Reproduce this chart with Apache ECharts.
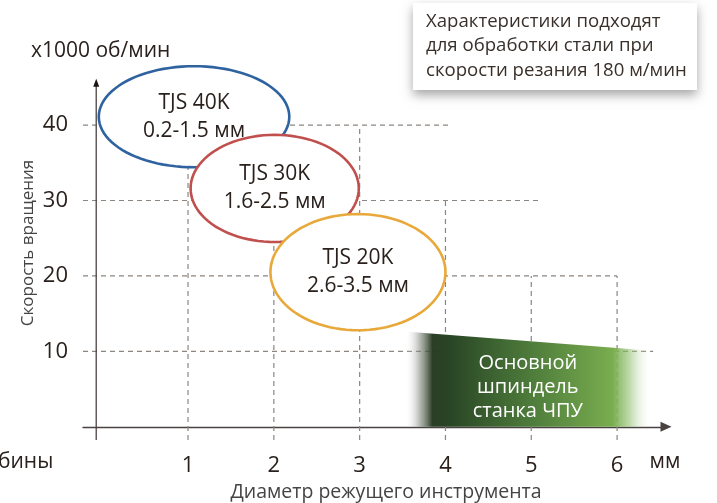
<!DOCTYPE html>
<html>
<head>
<meta charset="utf-8">
<script src="https://cdn.jsdelivr.net/npm/echarts@6/dist/echarts.min.js"></script>
<style>
html, body { margin: 0; padding: 0; background: #fff; }
#main { width: 717px; height: 503px; }
</style>
</head>
<body>
<div id="main"></div>
<script>
// tick values
var xTicks = [1, 2, 3, 4, 5, 6];
var yTicks = [10, 20, 30, 40];

// dashed grid (staircase): horizontal lines end, vertical lines top
var hLineY = [10, 20, 30, 40];
var hLineEnd = [6.42, 6.0, 5.1, 4.05];
var vLineX = [1, 2, 3, 4, 5, 6];
var vLineTop = [40, 40, 40, 30, 20, 20];

// tool ellipses
var toolNames = ['TJS 40K', 'TJS 30K', 'TJS 20K'];
var toolRanges = ['0.2-1.5 мм', '1.6-2.5 мм', '2.6-3.5 мм'];
var toolCenterX = [1.07, 2.01, 2.98];
var toolCenterY = [41.1, 31.6, 20.5];
var toolRadiusX = [1.11, 0.98, 1.02];
var toolRadiusY = [6.7, 7.1, 7.7];
var toolColors = ['#2e63a0', '#c0504d', '#e8a93a'];

// CNC main spindle band
var spindleX = [3.53, 6.41];
var spindleTop = [12.64, 10.08];
var spindleText = 'Основной\nшпиндель\nстанка ЧПУ';

var X_MIN = -0.224, X_MAX = 6.57;
var Y_MIN = -1.75, Y_MAX = 46.5;
var YAXIS_X = -0.07;

var textColor = '#2a211d';
var font = '"Open Sans", sans-serif';

var myChart = echarts.init(document.getElementById('main'));

var gridData = [];
for (var i = 0; i < hLineY.length; i++) {
    gridData.push([X_MIN, hLineY[i], hLineEnd[i], hLineY[i]]);
}
for (var j = 0; j < vLineX.length; j++) {
    gridData.push([vLineX[j], Y_MIN, vLineX[j], vLineTop[j]]);
}

var toolData = [];
for (var k = 0; k < toolNames.length; k++) {
    toolData.push([toolCenterX[k], toolCenterY[k], toolRadiusX[k], toolRadiusY[k], k]);
}

var option = {
    animation: false,
    grid: {
        left: 83,
        right: 51,
        top: 76,
        bottom: 63
    },
    xAxis: {
        type: 'value',
        min: X_MIN,
        max: X_MAX,
        axisLine: {
            onZero: true,
            symbol: ['none', 'triangle'],
            symbolSize: [10, 11],
            lineStyle: { color: '#4a4240', width: 1.3 }
        },
        axisTick: { show: false },
        splitLine: { show: false },
        axisLabel: {
            customValues: xTicks,
            margin: 15,
            fontSize: 22,
            color: textColor,
            fontFamily: font
        }
    },
    yAxis: {
        type: 'value',
        min: Y_MIN,
        max: Y_MAX,
        axisLine: { show: false },
        axisTick: { show: false },
        splitLine: { show: false },
        axisLabel: {
            customValues: yTicks,
            margin: 15,
            fontSize: 22,
            color: textColor,
            fontFamily: font
        }
    },
    series: [
        {
            // dashed staircase grid
            type: 'custom',
            z: 1,
            data: gridData,
            renderItem: function (params, api) {
                var p1 = api.coord([api.value(0), api.value(1)]);
                var p2 = api.coord([api.value(2), api.value(3)]);
                return {
                    type: 'line',
                    shape: { x1: p1[0], y1: p1[1], x2: p2[0], y2: p2[1] },
                    style: { stroke: '#8c8580', lineWidth: 1.2, lineDash: [5, 4] }
                };
            }
        },
        {
            // y axis with arrow
            type: 'line',
            z: 3,
            clip: false,
            data: [
                { value: [YAXIS_X, Y_MIN], symbol: 'none' },
                { value: [YAXIS_X, 45.6], symbol: 'triangle', symbolSize: [6, 8] }
            ],
            lineStyle: { color: '#4a4240', width: 1.3 },
            itemStyle: { color: '#1a1412' }
        },
        {
            // spindle band
            type: 'custom',
            z: 2,
            data: [[spindleX[0], spindleTop[0], spindleX[1], spindleTop[1]]],
            renderItem: function (params, api) {
                var a = api.coord([api.value(0), 0]);
                var b = api.coord([api.value(0), api.value(1)]);
                var c = api.coord([api.value(2), api.value(3)]);
                var d = api.coord([api.value(2), 0]);
                var mid = api.coord([4.96, 5.17]);
                return {
                    type: 'group',
                    children: [
                        {
                            type: 'polygon',
                            shape: { points: [a, b, c, d] },
                            style: {
                                fill: new echarts.graphic.LinearGradient(0, 0, 1, 0, [
                                    { offset: 0, color: 'rgba(255,255,255,0)' },
                                    { offset: 0.06, color: 'rgba(120,128,115,0.55)' },
                                    { offset: 0.11, color: 'rgba(36,56,31,0.97)' },
                                    { offset: 0.18, color: '#294525' },
                                    { offset: 0.51, color: '#4e7c3b' },
                                    { offset: 0.84, color: '#79ad4f' },
                                    { offset: 0.91, color: 'rgba(140,190,105,0.55)' },
                                    { offset: 1, color: 'rgba(255,255,255,0)' }
                                ])
                            }
                        },
                        {
                            type: 'text',
                            x: mid[0],
                            y: mid[1],
                            style: {
                                text: spindleText,
                                fill: '#fff',
                                fontSize: 20,
                                lineHeight: 24,
                                fontFamily: font,
                                align: 'center',
                                verticalAlign: 'middle'
                            }
                        }
                    ]
                };
            }
        },
        {
            // tool ellipses
            type: 'custom',
            z: 4,
            data: toolData,
            renderItem: function (params, api) {
                var cx = api.value(0), cy = api.value(1);
                var rx = api.value(2), ry = api.value(3);
                var idx = api.value(4);
                var pts = [];
                for (var t = 0; t < 96; t++) {
                    var ang = t / 96 * Math.PI * 2;
                    pts.push(api.coord([cx + rx * Math.cos(ang), cy + ry * Math.sin(ang)]));
                }
                var c = api.coord([cx, cy]);
                return {
                    type: 'group',
                    children: [
                        {
                            type: 'polygon',
                            shape: { points: pts },
                            style: { fill: '#fff', stroke: toolColors[idx], lineWidth: 2.6 }
                        },
                        {
                            type: 'text',
                            x: c[0],
                            y: c[1],
                            style: {
                                text: toolNames[idx] + '\n' + toolRanges[idx],
                                fill: textColor,
                                fontSize: 21,
                                lineHeight: 28,
                                fontFamily: font,
                                align: 'center',
                                verticalAlign: 'middle'
                            }
                        }
                    ]
                };
            }
        }
    ],
    graphic: [
        {
            type: 'text',
            left: 31,
            top: 41,
            style: { text: 'x1000 об/мин', fontSize: 21, fill: textColor, fontFamily: font }
        },
        {
            type: 'text',
            x: 28,
            y: 243,
            rotation: Math.PI / 2,
            style: {
                text: 'Скорость вращения', fontSize: 17, fill: '#444', fontFamily: font,
                align: 'center', verticalAlign: 'middle'
            }
        },
        {
            type: 'text',
            x: -2,
            y: 462,
            style: { text: 'бины', fontSize: 21, fill: textColor, fontFamily: font, verticalAlign: 'middle' }
        },
        {
            type: 'text',
            x: 665,
            y: 462,
            style: { text: 'мм', fontSize: 21, fill: textColor, fontFamily: font, align: 'center', verticalAlign: 'middle' }
        },
        {
            type: 'text',
            x: 386,
            y: 492,
            style: {
                text: 'Диаметр режущего инструмента', fontSize: 19.5, fill: '#444', fontFamily: font,
                align: 'center', verticalAlign: 'middle'
            }
        },
        {
            type: 'rect',
            shape: { x: 413, y: 3, width: 284, height: 87 },
            style: {
                fill: '#fff',
                shadowBlur: 10,
                shadowOffsetY: 5,
                shadowColor: 'rgba(0,0,0,0.35)'
            },
            z: 10
        },
        {
            type: 'text',
            x: 426,
            y: 46,
            z: 11,
            style: {
                text: 'Характеристики подходят\nдля обработки стали при\nскорости резания 180 м/мин',
                fontSize: 18.6,
                lineHeight: 24.5,
                fill: '#3a302a',
                fontFamily: font,
                verticalAlign: 'middle'
            }
        }
    ]
};

myChart.setOption(option);
</script>
</body>
</html>
